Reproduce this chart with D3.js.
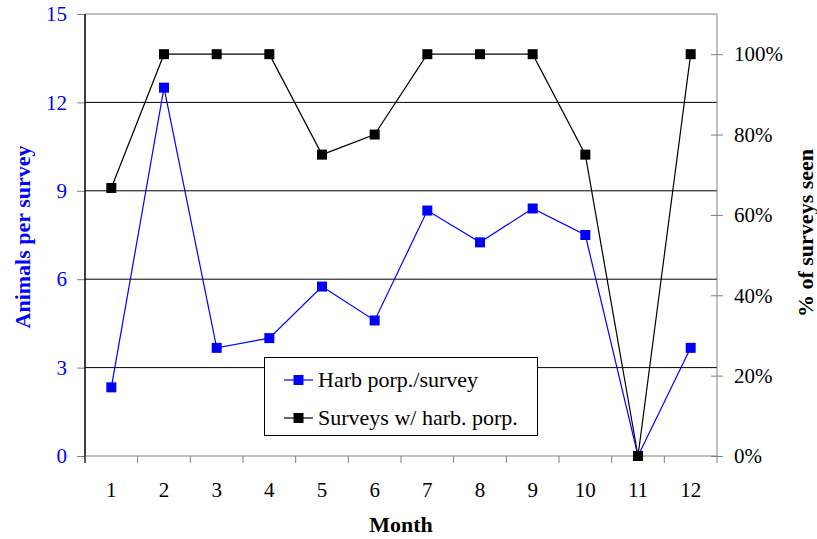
<!DOCTYPE html>
<html>
<head>
<meta charset="utf-8">
<script src="https://cdn.jsdelivr.net/npm/d3@7"></script>
<style>
html,body{margin:0;padding:0;background:#fff;}
svg{display:block;}
svg text{font-family:"Liberation Serif","Times New Roman",Times,Tinos,"DejaVu Serif",serif !important;}
</style>
</head>
<body>
<svg id="chart" width="817" height="539"></svg>
<script>
const months = [1,2,3,4,5,6,7,8,9,10,11,12];
const porpPerSurvey = [2.33,12.5,3.67,4.0,5.75,4.6,8.33,7.25,8.4,7.5,0,3.67];
const pctSurveysSeen = [0.667,1,1,1,0.75,0.8,1,1,1,0.75,0,1];
const leftTicks = [0,3,6,9,12,15];
const rightTicks = [0,0.2,0.4,0.6,0.8,1.0];
const seriesNames = ["Harb porp./survey","Surveys w/ harb. porp."];

const svg = d3.select("#chart");
const L = 85, R = 717, T = 14, B = 456;
const blue = "#0000ff", gray = "#808080";

const x = d3.scaleBand().domain(months).range([L, R]).padding(0);
const yL = d3.scaleLinear().domain([0, 15]).range([B, T]);
const yR = d3.scaleLinear().domain([0, 1.1]).range([B, T]);

// gridlines
svg.append("g").selectAll("line").data(leftTicks.filter(d => d > 0 && d < 15)).join("line")
  .attr("x1", L).attr("x2", R).attr("y1", d => yL(d)).attr("y2", d => yL(d))
  .attr("stroke", "#000").attr("stroke-width", 1);

// frame top and right
svg.append("line").attr("x1", L).attr("x2", R).attr("y1", T).attr("y2", T).attr("stroke", gray);
svg.append("line").attr("x1", R).attr("x2", R).attr("y1", T).attr("y2", B).attr("stroke", gray);

// left axis
const gL = svg.append("g").attr("transform", `translate(${L},0)`)
  .call(d3.axisLeft(yL).tickValues(leftTicks).tickSize(8).tickPadding(10).tickFormat(d3.format("d")));
gL.select(".domain").remove();
gL.selectAll(".tick line").attr("stroke", gray);
gL.selectAll(".tick text").attr("fill", blue).style("font-size", "21px");
svg.append("line").attr("x1", L).attr("x2", L).attr("y1", T).attr("y2", B).attr("stroke", "#000");

// right axis
const gR = svg.append("g").attr("transform", `translate(${R},0)`)
  .call(d3.axisRight(yR).tickValues(rightTicks).tickSize(6).tickPadding(11).tickFormat(d3.format(".0%")));
gR.select(".domain").remove();
gR.selectAll(".tick line").attr("stroke", gray).attr("x1", -6);
gR.selectAll(".tick text").attr("fill", "#000").style("font-size", "21px");

// bottom axis: ticks at category boundaries
const bounds = months.map(m => x(m)).concat([R]);
svg.append("g").selectAll("line").data(bounds).join("line")
  .attr("x1", d => d).attr("x2", d => d).attr("y1", B).attr("y2", B + 7).attr("stroke", gray);
svg.append("line").attr("x1", L).attr("x2", R).attr("y1", B).attr("y2", B).attr("stroke", gray);
svg.append("line").attr("x1", L).attr("x2", L).attr("y1", T).attr("y2", B + 7).attr("stroke", "#000");
svg.append("g").selectAll("text").data(months).join("text")
  .attr("x", d => x(d) + x.bandwidth() / 2).attr("y", 497)
  .attr("text-anchor", "middle").style("font-size", "21px").text(d => d);

// axis titles
svg.append("text").attr("x", 401).attr("y", 532).attr("text-anchor", "middle")
  .style("font-size", "22px").style("font-weight", "bold").text("Month");
svg.append("text").attr("transform", "translate(30,237) rotate(-90)").attr("text-anchor", "middle")
  .attr("fill", blue).style("font-size", "22px").style("font-weight", "bold").text("Animals per survey");
svg.append("text").attr("transform", "translate(813,233) rotate(-90)").attr("text-anchor", "middle")
  .attr("fill", "#000").style("font-size", "22px").style("font-weight", "bold").text("% of surveys seen");

const cx = d => x(d) + x.bandwidth() / 2;
const ms = 10;

// black series
svg.append("path").datum(months.map((m, i) => [cx(m), yR(pctSurveysSeen[i])]))
  .attr("fill", "none").attr("stroke", "#000").attr("stroke-width", 1.2).attr("d", d3.line());
// blue series
svg.append("path").datum(months.map((m, i) => [cx(m), yL(porpPerSurvey[i])]))
  .attr("fill", "none").attr("stroke", blue).attr("stroke-width", 1.2).attr("d", d3.line());
svg.append("g").selectAll("rect").data(months).join("rect")
  .attr("x", (m) => cx(m) - ms / 2).attr("y", (m, i) => yL(porpPerSurvey[i]) - ms / 2)
  .attr("width", ms).attr("height", ms).attr("fill", blue);
svg.append("g").selectAll("rect").data(months).join("rect")
  .attr("x", (m) => cx(m) - ms / 2).attr("y", (m, i) => yR(pctSurveysSeen[i]) - ms / 2)
  .attr("width", ms).attr("height", ms).attr("fill", "#000");

// legend
const lg = svg.append("g");
lg.append("rect").attr("x", 264.5).attr("y", 357.5).attr("width", 273).attr("height", 78)
  .attr("fill", "#fff").attr("stroke", "#000");
const colors = [blue, "#000"];
seriesNames.forEach((n, i) => {
  const yy = 380 + i * 38;
  lg.append("line").attr("x1", 284).attr("x2", 313).attr("y1", yy).attr("y2", yy).attr("stroke", colors[i]).attr("stroke-width", 1.2);
  lg.append("rect").attr("x", 298.5 - 5).attr("y", yy - 5).attr("width", 10).attr("height", 10).attr("fill", colors[i]);
  lg.append("text").attr("x", 318).attr("y", yy + 7).style("font-size", "22px").text(n);
});
</script>
</body>
</html>
